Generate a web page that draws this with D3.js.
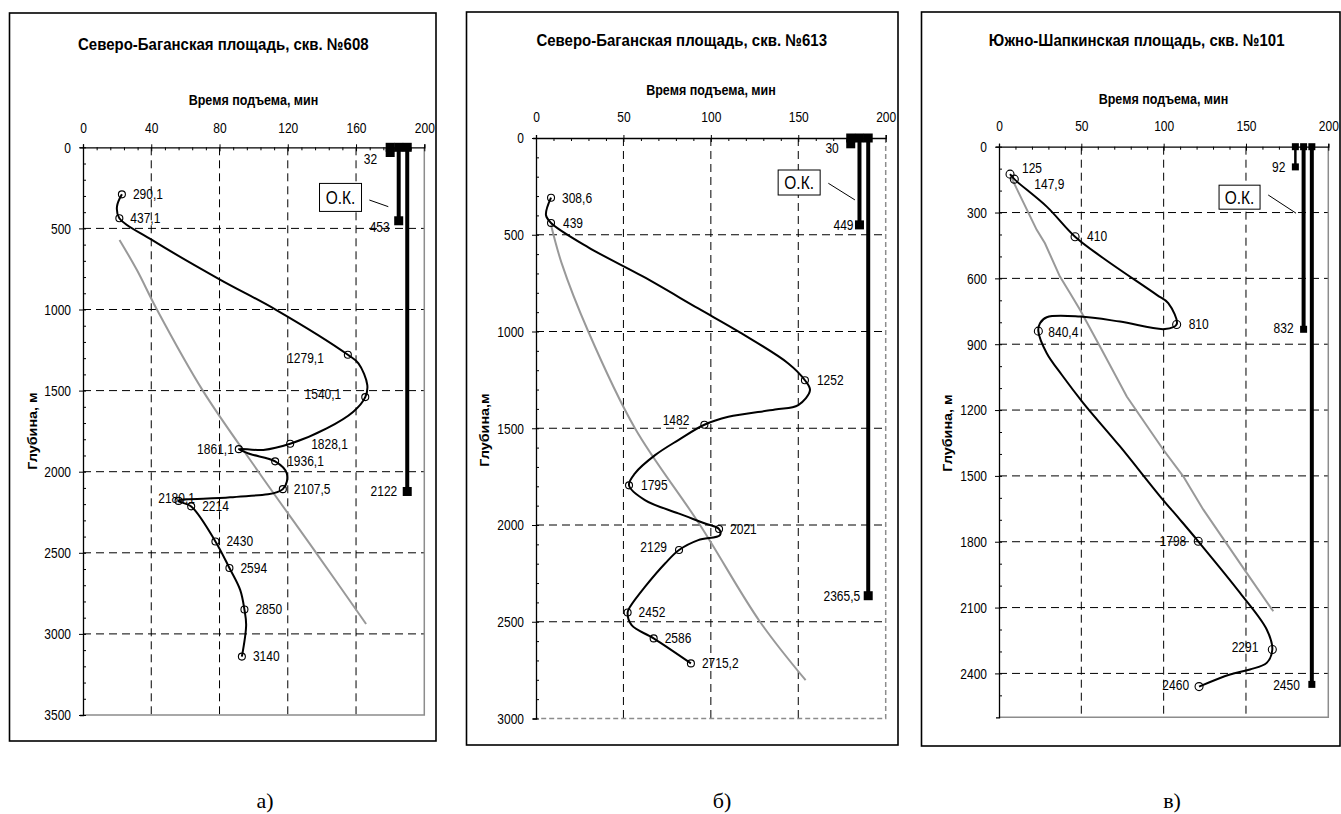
<!DOCTYPE html>
<html><head><meta charset="utf-8">
<script src="https://cdn.jsdelivr.net/npm/d3@7"></script>
<style>body{margin:0;background:#fff}svg{display:block}</style>
</head><body>
<script>
// ================= DATA =================
const titles = ["Северо-Баганская площадь, скв. №608", "Северо-Баганская площадь, скв. №613", "Южно-Шапкинская площадь, скв. №101"];
const panelLetters = ["а)", "б)", "в)"];
const xAxisTitle = "Время подъема, мин";
const yAxisTitles = ["Глубина, м", "Глубина,м", "Глубина, м"];
const casingText = "О.К.";

const xTicksA = [0, 40, 80, 120, 160, 200];
const xTicksB = [0, 50, 100, 150, 200];
const xTicksC = [0, 50, 100, 150, 200];
const yTicksA = [0, 500, 1000, 1500, 2000, 2500, 3000, 3500];
const yTicksB = [0, 500, 1000, 1500, 2000, 2500, 3000];
const yTicksC = [0, 300, 600, 900, 1200, 1500, 1800, 2100, 2400];
const yMaxA = 3500, yMaxB = 3000, yMaxC = 2600;

// black curve (time, depth)
const curveTimeA  = [22.8, 19.9, 21.3, 40.4, 80, 112.6, 155.2, 161.4, 166.6, 165.4, 158.4, 142.8, 121.4, 105.7, 91.3, 97.9, 112.6, 119.4, 117.1, 86.2, 56, 63.4, 77.6, 85.8, 92.1, 94.6, 95.6, 93.1];
const curveDepthA = [290.1, 366, 437.1, 571, 814, 999, 1279.1, 1332, 1466, 1540.1, 1630, 1733, 1828.1, 1866, 1861.1, 1891, 1936.1, 2010, 2107.5, 2158, 2180.1, 2214, 2430, 2594, 2729, 2850, 2945, 3140];
const markTimeA   = [22.8, 21.3, 155.2, 165.4, 121.4, 91.3, 112.6, 117.1, 56, 63.4, 77.6, 85.8, 94.6, 93.1];
const markLabelA  = ["290,1", "437,1", "1279,1", "1540,1", "1828,1", "1861,1", "1936,1", "2107,5", "2180,1", "2214", "2430", "2594", "2850", "3140"];
const trendTimeA  = [21.4, 31.6, 43.3, 70.2, 102.8, 136.6, 165.9];
const trendDepthA = [571, 757, 1000, 1500, 2000, 2500, 2939];
const casingTimeA = [180, 185, 190];
const casingDepthA = [32, 453, 2122];
const casingLabelA = ["32", "453", "2122"];

const curveTimeB  = [8.6, 5.7, 8.6, 29.9, 61.4, 92.8, 117.6, 144.3, 153.8, 156.7, 150, 136.7, 110, 96.3, 81.4, 68.1, 56.6, 53.2, 62.3, 81.4, 96.7, 104.7, 105.2, 92.8, 81.8, 73.8, 62.3, 53.8, 52.4, 54.7, 67.3, 88.6];
const curveDepthB = [308.6, 398, 439, 565, 717, 881, 1010, 1165, 1252, 1303, 1380, 1403, 1441, 1482, 1561, 1639, 1733, 1795, 1871, 1940, 1992, 2021, 2052, 2078, 2129, 2199, 2320, 2423, 2452, 2518, 2586, 2715.2];
const markTimeB   = [8.6, 8.6, 153.8, 96.3, 53.2, 104.7, 81.8, 52.4, 67.3, 88.6];
const markLabelB  = ["308,6", "439", "1252", "1482", "1795", "2021", "2129", "2452", "2586", "2715,2"];
const trendTimeB  = [8.6, 14.7, 29.9, 56.6, 93.8, 128.1, 154.2];
const trendDepthB = [450, 648, 1000, 1500, 2000, 2500, 2802];
const casingTimeB = [180, 185, 190];
const casingDepthB = [30, 449, 2365.5];
const casingLabelB = ["30", "449", "2365,5"];

const curveTimeC  = [6.7, 9.3, 29, 46.2, 63.4, 95.8, 102.8, 107.9, 100.8, 73.5, 49.2, 29, 24.9, 23.9, 29, 38.1, 51.2, 73.5, 97.8, 109.9, 121, 146.4, 162.6, 166, 162.6, 152.4, 140.3, 121.5];
const curveDepthC = [125, 147.9, 273, 410, 508, 675, 713, 810, 831, 797, 774, 777, 804, 840.4, 941, 1039, 1168, 1366, 1593, 1699, 1798, 2033, 2200, 2291, 2352, 2382, 2405, 2460];
const markTimeC   = [6.7, 9.3, 46.2, 107.9, 23.9, 121, 166, 121.5];
const markLabelC  = ["125", "147,9", "410", "810", "840,4", "1798", "2291", "2460"];
const trendTimeC  = [7.7, 22.9, 27.9, 37, 43.1, 49.2, 62.4, 77.6, 99.8, 111.9, 124.1, 150.4, 166.6];
const trendDepthC = [144, 379, 440, 592, 667, 743, 925, 1138, 1381, 1502, 1654, 1942, 2117];
const casingTimeC = [180, 185, 190];
const casingDepthC = [92, 832, 2450];
const casingLabelC = ["92", "832", "2450"];

// ================= LAYOUT =================
const SY = 1.15; // vertical stretch of the text in the original picture
const FONT = "Arial, 'Liberation Sans', sans-serif";
const layouts = [
  { frame: [9.5, 13, 426.5, 728], plot: [83, 424.3, 147.3, 715], xMinor: 8, yMinor: 100,
    title: [223.3, 43.3], xTitle: [253.5, 100], yTitle: [33.3, 431], xLab: 19, letter: [265, 808],
    borderDash: null, casingW: [2.5, 4, 4], sq: 9, r: 3.5,
    box: [150.9, 309, 42, 28], leader: [167.8, 325, 178.9, 366],
    labPos: [["start",11,0],["start",11,0],["end",-24,3],["end",-24,-3],["start",21,0],["end",-5,0],["start",12,0],["start",11,0],["middle",-2,-3],["start",11,0],["start",11,0],["start",11,0],["start",11,0],["start",11,0]],
    casPos: [[-13,7],[-9,6],[-10,0]] },
  { frame: [466.5, 12, 431.5, 733], plot: [536, 885.7, 138, 718.5], xMinor: 10, yMinor: 100,
    title: [681.7, 39.3], xTitle: [711, 90], yTitle: [485, 430], xLab: 21, letter: [722, 808],
    borderDash: "5,3", casingW: [2.5, 4, 4], sq: 9, r: 3.5,
    box: [150.5, 230, 42, 25], leader: [167.2, 234, 182.4, 320],
    labPos: [["start",11,0],["start",12,0],["start",12,0],["end",-15,-5],["start",12,0],["start",11,0],["end",-12,-3],["start",11,0],["start",11,0],["start",11,0]],
    casPos: [[-12,4.5],[-6,0],[-8,0]] },
  { frame: [921.5, 12, 418.5, 734], plot: [999, 1328.3, 146.7, 717.3], xMinor: 10, yMinor: 100,
    title: [1136.7, 39.3], xTitle: [1163.5, 99.3], yTitle: [948.3, 433], xLab: 20.5, letter: [1172, 808],
    borderDash: null, casingW: [2.5, 4, 4], sq: 7, r: 4,
    box: [146.1, 230, 41, 24], leader: [163.5, 220, 180.4, 303],
    labPos: [["start",12,-6],["start",20,5],["start",12,0],["start",12,0],["start",10,1],["end",-12,0],["end",-14,-2],["end",-10,-1]],
    casPos: [[-10,0],[-10,-1],[-12,1]] }
];

const panels = [
  { title: titles[0], letter: panelLetters[0], yTitle: yAxisTitles[0], xTicks: xTicksA, yTicks: yTicksA, yMax: yMaxA,
    curve: curveTimeA.map((t,i)=>({t, d: curveDepthA[i]})),
    marks: markTimeA.map((t,i)=>({t, d: +markLabelA[i].replace(",", "."), label: markLabelA[i]})),
    trend: trendTimeA.map((t,i)=>({t, d: trendDepthA[i]})), trendCurve: "smooth",
    casing: casingTimeA.map((t,i)=>({t, d: casingDepthA[i], label: casingLabelA[i]})) },
  { title: titles[1], letter: panelLetters[1], yTitle: yAxisTitles[1], xTicks: xTicksB, yTicks: yTicksB, yMax: yMaxB,
    curve: curveTimeB.map((t,i)=>({t, d: curveDepthB[i]})),
    marks: markTimeB.map((t,i)=>({t, d: +markLabelB[i].replace(",", "."), label: markLabelB[i]})),
    trend: trendTimeB.map((t,i)=>({t, d: trendDepthB[i]})), trendCurve: "smooth",
    casing: casingTimeB.map((t,i)=>({t, d: casingDepthB[i], label: casingLabelB[i]})) },
  { title: titles[2], letter: panelLetters[2], yTitle: yAxisTitles[2], xTicks: xTicksC, yTicks: yTicksC, yMax: yMaxC,
    curve: curveTimeC.map((t,i)=>({t, d: curveDepthC[i]})),
    marks: markTimeC.map((t,i)=>({t, d: +markLabelC[i].replace(",", "."), label: markLabelC[i]})),
    trend: trendTimeC.map((t,i)=>({t, d: trendDepthC[i]})), trendCurve: "linear",
    casing: casingTimeC.map((t,i)=>({t, d: casingDepthC[i], label: casingLabelC[i]})) }
];

// ================= DRAW =================
const svg = d3.select("body").append("svg").attr("width", 1341).attr("height", 814)
  .style("font-family", FONT);

function stext(g, x, y, str, o = {}) {
  return g.append("text")
    .attr("transform", `translate(${x},${y}) scale(1,${SY})${o.rot ? " rotate(-90)" : ""}`)
    .attr("text-anchor", o.anchor || "middle").attr("dominant-baseline", "central")
    .attr("font-size", o.size || 12).attr("font-weight", o.bold ? "bold" : null)
    .attr("font-family", o.family || FONT).attr("fill", "#000").text(str);
}

panels.forEach((p, k) => {
  const L = layouts[k];
  const [px0, px1, py0, py1] = L.plot;
  const g = svg.append("g");
  const x = d3.scaleLinear().domain([0, 200]).range([px0, px1]);
  const y = d3.scaleLinear().domain([0, p.yMax]).range([py0, py1]);
  const fmt = d3.format("d");

  // frame
  g.append("rect").attr("x", L.frame[0]).attr("y", L.frame[1]).attr("width", L.frame[2]).attr("height", L.frame[3])
    .attr("fill", "none").attr("stroke", "#000").attr("stroke-width", 1.6);

  // grid
  g.append("g").selectAll("line").data(p.xTicks.filter(v => v > 0 && v < 200)).join("line")
    .attr("x1", d => x(d)).attr("x2", d => x(d)).attr("y1", py0).attr("y2", py1)
    .attr("stroke", "#000").attr("stroke-width", 1).attr("stroke-dasharray", "8,5");
  g.append("g").selectAll("line").data(p.yTicks.filter(v => v > 0 && v < p.yMax)).join("line")
    .attr("x1", px0).attr("x2", px1).attr("y1", d => y(d)).attr("y2", d => y(d))
    .attr("stroke", "#000").attr("stroke-width", 1).attr("stroke-dasharray", "8,5");

  // right / bottom border (grey)
  g.append("path").attr("d", `M${x(200)},${py0}V${py1}H${px0}`).attr("fill", "none")
    .attr("stroke", "#8c8c8c").attr("stroke-width", 1.5).attr("stroke-dasharray", L.borderDash);

  // axes
  const gx = g.append("g").attr("transform", `translate(0,${py0})`)
    .call(d3.axisTop(x).tickValues(p.xTicks).tickSizeOuter(0).tickSize(3).tickFormat(fmt));
  gx.attr("font-size", 12).attr("font-family", FONT);
  gx.select(".domain").attr("stroke", "#000").attr("stroke-width", 1.3);
  gx.selectAll(".tick line").attr("y1", 4).attr("y2", -3).attr("stroke", "#000");
  gx.selectAll(".tick text").attr("y", null).attr("dy", null).attr("dominant-baseline", "central")
    .attr("transform", `translate(0,${-L.xLab}) scale(1,${SY})`).attr("fill", "#000");
  g.append("g").attr("transform", `translate(0,${py0})`)
    .call(d3.axisTop(x).tickValues(d3.range(0, 200, L.xMinor).filter(v => !p.xTicks.includes(v))).tickSize(-3).tickFormat(""))
    .call(s => { s.select(".domain").remove(); s.selectAll("line").attr("stroke", "#000"); });

  const gy = g.append("g").attr("transform", `translate(${px0},0)`)
    .call(d3.axisLeft(y).tickValues(p.yTicks).tickSizeOuter(0).tickSize(3).tickPadding(9).tickFormat(fmt));
  gy.attr("font-size", 12).attr("font-family", FONT);
  gy.select(".domain").attr("stroke", "#000").attr("stroke-width", 1.3);
  gy.selectAll(".tick line").attr("x1", 3).attr("x2", -4).attr("stroke", "#000");
  gy.selectAll(".tick text").attr("dy", null).attr("dominant-baseline", "central")
    .attr("transform", `scale(1,${SY})`).attr("y", 0).attr("fill", "#000");
  g.append("g").attr("transform", `translate(${px0},0)`)
    .call(d3.axisLeft(y).tickValues(d3.range(0, p.yMax, L.yMinor).filter(v => !p.yTicks.includes(v))).tickSize(-3).tickFormat(""))
    .call(s => { s.select(".domain").remove(); s.selectAll("line").attr("stroke", "#000"); });

  // titles
  stext(g, L.title[0], L.title[1], p.title, { size: 15, bold: true });
  stext(g, L.xTitle[0], L.xTitle[1], xAxisTitle, { size: 12.5, bold: true });
  stext(g, L.yTitle[0], L.yTitle[1], p.yTitle, { size: 12.5, bold: true, rot: true });
  stext(svg, L.letter[0], L.letter[1], p.letter, { size: 22, family: "'Liberation Serif', 'Times New Roman', serif", anchor: "middle" })
    .attr("dominant-baseline", "alphabetic").attr("transform", `translate(${L.letter[0]},${L.letter[1]})`);

  // grey trend line
  const line = d3.line().x(d => x(d.t)).y(d => y(d.d));
  g.append("path").datum(p.trend)
    .attr("d", line.curve(p.trendCurve === "smooth" ? d3.curveCatmullRom.alpha(0.5) : d3.curveLinear))
    .attr("fill", "none").attr("stroke", "#999").attr("stroke-width", 2);

  // black curve
  g.append("path").datum(p.curve).attr("d", line.curve(d3.curveCatmullRom.alpha(0.5)))
    .attr("fill", "none").attr("stroke", "#000").attr("stroke-width", 2);

  // markers + labels
  g.append("g").selectAll("circle").data(p.marks).join("circle")
    .attr("cx", d => x(d.t)).attr("cy", d => y(d.d)).attr("r", L.r)
    .attr("fill", "none").attr("stroke", "#000").attr("stroke-width", 1.1);
  p.marks.forEach((m, i) => {
    const [a, dx, dy] = L.labPos[i];
    stext(g, x(m.t) + dx, y(m.d) + dy, m.label, { anchor: a, size: 12 });
  });

  // casing (О.К.) columns
  p.casing.forEach((c, i) => {
    g.append("line").attr("x1", x(c.t)).attr("x2", x(c.t)).attr("y1", y(0)).attr("y2", y(c.d))
      .attr("stroke", "#000").attr("stroke-width", L.casingW[i]);
  });
  p.casing.forEach(c => {
    [0, c.d].forEach(dd => {
      g.append("rect").attr("x", x(c.t) - L.sq / 2).attr("y", y(dd) - L.sq / 2)
        .attr("width", L.sq).attr("height", L.sq).attr("fill", "#000");
    });
  });
  p.casing.forEach((c, i) => {
    const [dx, dy] = L.casPos[i];
    stext(g, x(c.t) + dx, y(c.d) + dy, c.label, { anchor: "end", size: 12 });
  });

  // О.К. box with leader
  const [bt, bd, bw, bh] = L.box;
  g.append("line").attr("x1", x(L.leader[0])).attr("y1", y(L.leader[1])).attr("x2", x(L.leader[2])).attr("y2", y(L.leader[3]))
    .attr("stroke", "#000").attr("stroke-width", 1);
  g.append("rect").attr("x", x(bt) - bw / 2).attr("y", y(bd) - bh / 2).attr("width", bw).attr("height", bh)
    .attr("fill", "#fff").attr("stroke", "#000").attr("stroke-width", 1);
  stext(g, x(bt), y(bd) + 0.5, casingText, { size: 15.5 });
});
</script>
</body></html>
